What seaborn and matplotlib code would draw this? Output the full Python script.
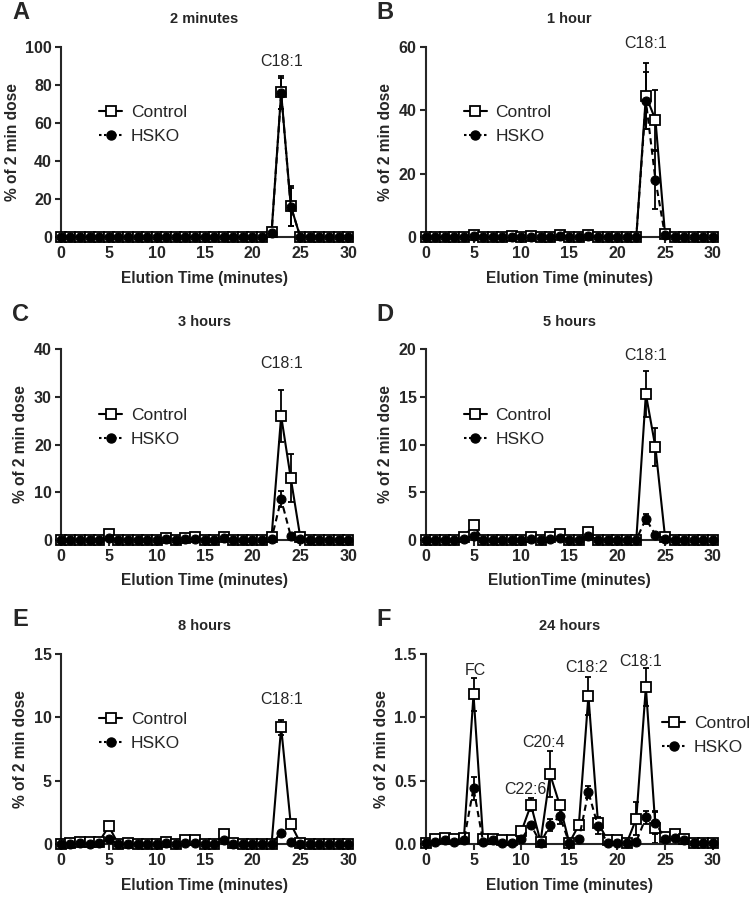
import numpy as np
import pandas as pd
import matplotlib
matplotlib.use("Agg")
import matplotlib.pyplot as plt
import seaborn as sns
from matplotlib.lines import Line2D

# elution time points (minutes)
t = list(range(31))

# % of 2 min dose, per panel
a_ctrl = [0, 0, 0, 0, 0, 0, 0, 0, 0.2, 0.2, 0, 0, 0, 0, 0, 0, 0, 0, 0, 0, 0, 0, 2.5, 76, 16.5, 0, 0, 0, 0, 0, 0]
a_hsko = [0, 0, 0, 0, 0, 0, 0, 0, 0, 0, 0, 0, 0, 0, 0, 0, 0, 0, 0, 0, 0, 0, 2, 75.5, 16, 0.3, 0, 0, 0, 0, 0]
b_ctrl = [0, 0, 0, 0, 0, 0.8, 0, 0, 0, 0.2, 0, 0.3, 0, 0, 0.5, 0, 0, 0.5, 0, 0, 0, 0, 0, 44.5, 37, 1, 0, 0, 0, 0, 0]
b_hsko = [0, 0, 0, 0, 0, 0.2, 0, 0, 0, 0, 0, 0, 0, 0, 0.2, 0, 0, 0.2, 0, 0, 0, 0, 0, 43, 18, 0.5, 0, 0, 0, 0, 0]
c_ctrl = [0, 0, 0, 0, 0, 1.2, 0, 0, 0, 0, 0, 0.3, 0, 0.3, 0.5, 0, 0, 0.6, 0, 0, 0, 0, 0.6, 26, 13, 0.5, 0, 0, 0, 0, 0]
c_hsko = [0, 0, 0, 0, 0, 0.3, 0, 0, 0, 0, 0, 0.1, 0, 0.1, 0.2, 0, 0, 0.3, 0, 0, 0, 0, 0.2, 8.5, 0.8, 0.1, 0, 0, 0, 0, 0]
d_ctrl = [0, 0, 0, 0, 0.3, 1.5, 0, 0, 0, 0, 0, 0.3, 0, 0.3, 0.6, 0, 0, 0.8, 0, 0, 0, 0, 0, 15.3, 9.7, 0.3, 0, 0, 0, 0, 0]
d_hsko = [0, 0, 0, 0, 0.1, 0.4, 0, 0, 0, 0, 0, 0.1, 0, 0.1, 0.2, 0, 0, 0.4, 0, 0, 0, 0, 0, 2.2, 0.5, 0.1, 0, 0, 0, 0, 0]
e_ctrl = [0, 0.1, 0.2, 0.2, 0.2, 1.4, 0, 0.1, 0, 0, 0, 0.2, 0, 0.3, 0.3, 0, 0, 0.8, 0.1, 0, 0, 0, 0, 9.2, 1.6, 0.1, 0, 0, 0, 0, 0]
e_hsko = [0, 0, 0.05, 0, 0.05, 0.4, 0, 0, 0, 0, 0, 0.1, 0, 0.1, 0.1, 0, 0, 0.3, 0, 0, 0, 0, 0, 0.9, 0.2, 0, 0, 0, 0, 0, 0]
f_ctrl = [0.01, 0.04, 0.05, 0.04, 0.05, 1.18, 0.04, 0.04, 0.03, 0.03, 0.1, 0.31, 0.02, 0.55, 0.31, 0.01,
          0.15, 1.17, 0.17, 0.03, 0.03, 0.01, 0.2, 1.24, 0.13, 0.06, 0.08, 0.04, 0.01, 0.01, 0.01]
f_hsko = [0.01, 0.02, 0.03, 0.02, 0.03, 0.44, 0.02, 0.03, 0.01, 0.01, 0.04, 0.15, 0.01, 0.15, 0.22, 0.01,
          0.04, 0.41, 0.14, 0.01, 0.01, 0.01, 0.02, 0.21, 0.17, 0.04, 0.05, 0.03, 0.01, 0.01, 0.01]

# error bars (only where visible): {time: sem}
a_ctrl_err = {23: 8.5, 24: 10.5}
a_hsko_err = {23: 8, 24: 10}
b_ctrl_err = {23: 10.5, 24: 9.5}
b_hsko_err = {23: 9, 24: 9}
c_ctrl_err = {23: 5.5, 24: 5}
c_hsko_err = {23: 1.7}
d_ctrl_err = {23: 2.4, 24: 2.0}
d_hsko_err = {23: 0.5}
e_ctrl_err = {5: 0.2, 23: 0.6}
e_hsko_err = {}
f_ctrl_err = {5: 0.13, 11: 0.05, 13: 0.18, 14: 0.03, 17: 0.15, 18: 0.04, 22: 0.13, 23: 0.15, 24: 0.12}
f_hsko_err = {5: 0.09, 13: 0.05, 14: 0.06, 17: 0.05, 18: 0.06, 23: 0.05, 24: 0.09}

panels = [
    ("A", "2 minutes", a_ctrl, a_hsko, a_ctrl_err, a_hsko_err, 100, 20, "%d",
     [("C18:1", 23, 92)], "Elution Time (minutes)", (0.11, 0.73)),
    ("B", "1 hour", b_ctrl, b_hsko, b_ctrl_err, b_hsko_err, 60, 20, "%d",
     [("C18:1", 23, 61)], "Elution Time (minutes)", (0.11, 0.73)),
    ("C", "3 hours", c_ctrl, c_hsko, c_ctrl_err, c_hsko_err, 40, 10, "%d",
     [("C18:1", 23, 37)], "Elution Time (minutes)", (0.11, 0.73)),
    ("D", "5 hours", d_ctrl, d_hsko, d_ctrl_err, d_hsko_err, 20, 5, "%d",
     [("C18:1", 23, 19.3)], "ElutionTime (minutes)", (0.11, 0.73)),
    ("E", "8 hours", e_ctrl, e_hsko, e_ctrl_err, e_hsko_err, 15, 5, "%d",
     [("C18:1", 23, 11.4)], "Elution Time (minutes)", (0.11, 0.73)),
    ("F", "24 hours", f_ctrl, f_hsko, f_ctrl_err, f_hsko_err, 1.5, 0.5, "%.1f",
     [("FC", 5.2, 1.37), ("C22:6", 10.4, 0.43), ("C20:4", 12.3, 0.80),
      ("C18:2", 16.8, 1.39), ("C18:1", 22.5, 1.44)], "Elution Time (minutes)", (0.80, 0.71)),
]

sns.set_style("ticks")
plt.rcParams["font.family"] = ["Liberation Sans", "DejaVu Sans"]
plt.rcParams["font.weight"] = "bold"

fig = plt.figure(figsize=(7.52, 8.98), dpi=100)

lefts = [0.081, 0.566]
bottoms = [0.736, 0.399, 0.060]
w, h = 0.382, 0.212

for i, (letter, title, ctrl, hsko, cerr, herr, ymax, ystep, fmt, labels, xlab, legpos) in enumerate(panels):
    ax = fig.add_axes([lefts[i % 2], bottoms[i // 2], w, h])
    df = pd.DataFrame({
        "time": t + t,
        "value": ctrl + hsko,
        "group": ["Control"] * len(t) + ["HSKO"] * len(t),
    })
    # error bars first, then the two series
    for vals, errs in [(ctrl, cerr), (hsko, herr)]:
        xs = list(errs.keys())
        ys = [vals[x] for x in xs]
        es = list(errs.values())
        if xs:
            ax.errorbar(xs, ys, yerr=es, fmt="none", ecolor="black", elinewidth=1.3,
                        capsize=2.5, capthick=1.3, clip_on=False, zorder=2)
    sns.lineplot(data=df[df["group"] == "Control"], x="time", y="value", ax=ax,
                 color="black", linewidth=1.5, marker="s", markersize=7.5,
                 markerfacecolor="white", markeredgecolor="black", markeredgewidth=1.3,
                 clip_on=False, zorder=3, legend=False)
    sns.lineplot(data=df[df["group"] == "HSKO"], x="time", y="value", ax=ax,
                 color="black", linewidth=1.5, linestyle=(0, (3, 2)), marker="o", markersize=6.5,
                 markerfacecolor="black", markeredgecolor="black",
                 clip_on=False, zorder=4, legend=False)

    ax.set_xlim(0, 30)
    ax.set_ylim(0, ymax)
    ax.set_xticks(range(0, 31, 5))
    ax.set_yticks(np.arange(0, ymax + ystep / 2, ystep))
    ax.yaxis.set_major_formatter(matplotlib.ticker.FormatStrFormatter(fmt))
    sns.despine(ax=ax)
    for s in ["left", "bottom"]:
        ax.spines[s].set_linewidth(1.5)
    ax.tick_params(axis="both", labelsize=11.5, width=1.5, length=4, direction="out", pad=2.5)
    for lab in ax.get_xticklabels() + ax.get_yticklabels():
        lab.set_fontweight("bold")

    ax.set_xlabel(xlab, fontsize=11.2, fontweight="bold", labelpad=7)
    ax.set_ylabel("% of 2 min dose", fontsize=11.2, fontweight="bold", labelpad=4)
    ax.set_title(title, fontsize=10.5, fontweight="bold", pad=17)
    ax.text(-0.17, 1.12, letter, transform=ax.transAxes, fontsize=17, fontweight="bold",
            ha="left", va="bottom")

    for txt, x, y in labels:
        ax.text(x, y, txt, ha="center", va="center", fontsize=11.5, fontweight="normal")

    handles = [
        Line2D([], [], color="black", linewidth=1.5, marker="s", markersize=7,
               markerfacecolor="white", markeredgewidth=1.3),
        Line2D([], [], color="black", linewidth=1.5, linestyle=(0, (1.2, 1.2)), marker="o",
               markersize=6.5, markerfacecolor="black"),
    ]
    ax.legend(handles, ["Control", "HSKO"], loc="upper left", bbox_to_anchor=legpos,
              frameon=False, handlelength=1.3, handletextpad=0.5,
              labelspacing=0.5, borderaxespad=0, prop={"weight": "normal", "size": 12.5})

fig.savefig("out.png", dpi=100)
